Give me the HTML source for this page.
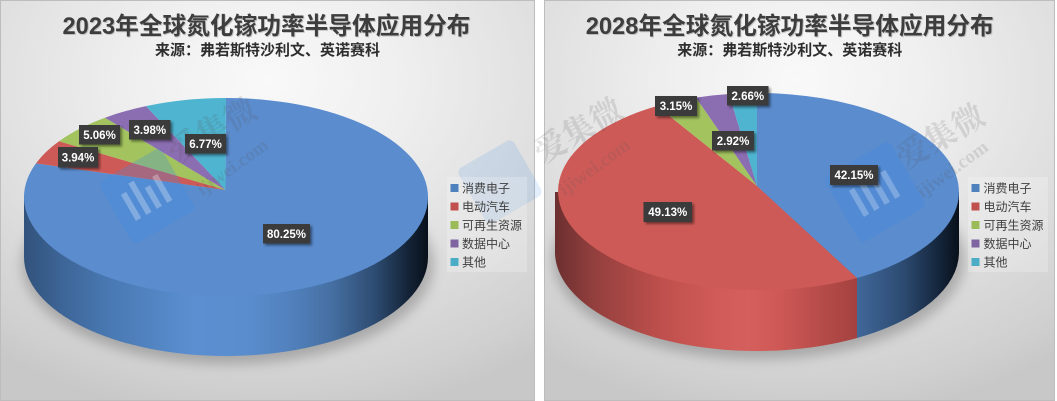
<!DOCTYPE html>
<html><head><meta charset="utf-8">
<style>
html,body{margin:0;padding:0;background:#fff;}
body{width:1057px;height:401px;overflow:hidden;position:relative;}
svg{position:absolute;left:0;top:0;}
.t{font-family:"Liberation Sans","Noto Sans CJK SC",sans-serif;font-weight:bold;font-size:23.7px;fill:#3d3d3d;text-anchor:middle;}
.ts{font-family:"Liberation Sans","Noto Sans CJK SC",sans-serif;font-weight:bold;font-size:23.7px;fill:rgba(0,0,0,0.18);text-anchor:middle;}
.s{font-family:"Liberation Sans","Noto Sans CJK SC",sans-serif;font-weight:bold;font-size:15px;fill:#2e2e2e;text-anchor:middle;}
.lg{font-family:"Liberation Sans","Noto Sans CJK SC",sans-serif;font-size:12px;fill:#404040;}
.lb{font-family:"Liberation Sans",sans-serif;font-weight:bold;font-size:11.5px;fill:#ffffff;text-anchor:middle;}
.wm{font-family:"Liberation Serif","Noto Serif CJK SC",serif;font-weight:bold;fill:rgba(90,90,90,0.17);text-anchor:middle;}
</style></head><body>
<svg width="1057" height="401" viewBox="0 0 1057 401" xmlns="http://www.w3.org/2000/svg">
<defs>
  <radialGradient id="bg" cx="0.5" cy="0.2" r="0.85">
    <stop offset="0" stop-color="#f9f9f9"/>
    <stop offset="0.3" stop-color="#efefef"/>
    <stop offset="0.65" stop-color="#dedede"/>
    <stop offset="0.9" stop-color="#d0d0d0"/>
    <stop offset="1" stop-color="#c8c8c8"/>
  </radialGradient>
  <linearGradient id="bsL" gradientUnits="userSpaceOnUse" x1="24" y1="0" x2="428" y2="0">
    <stop offset="0" stop-color="#31527b"/>
    <stop offset="0.1" stop-color="#3e6699"/>
    <stop offset="0.22" stop-color="#4a7ab4"/>
    <stop offset="0.42" stop-color="#5b8fd1"/>
    <stop offset="0.55" stop-color="#5a8dcd"/>
    <stop offset="0.65" stop-color="#5282bf"/>
    <stop offset="0.76" stop-color="#4670a3"/>
    <stop offset="0.87" stop-color="#2d4b70"/>
    <stop offset="0.95" stop-color="#142438"/>
    <stop offset="1" stop-color="#08101a"/>
  </linearGradient>
  <linearGradient id="bsR" gradientUnits="userSpaceOnUse" x1="555" y1="0" x2="959" y2="0">
    <stop offset="0" stop-color="#31527b"/>
    <stop offset="0.1" stop-color="#3e6699"/>
    <stop offset="0.22" stop-color="#4a7ab4"/>
    <stop offset="0.42" stop-color="#5b8fd1"/>
    <stop offset="0.55" stop-color="#5a8dcd"/>
    <stop offset="0.65" stop-color="#5282bf"/>
    <stop offset="0.75" stop-color="#406899"/>
    <stop offset="0.86" stop-color="#2d4b72"/>
    <stop offset="0.94" stop-color="#172a42"/>
    <stop offset="1" stop-color="#08101a"/>
  </linearGradient>
  <linearGradient id="rsR" gradientUnits="userSpaceOnUse" x1="555" y1="0" x2="959" y2="0">
    <stop offset="0" stop-color="#6c2f2f"/>
    <stop offset="0.1" stop-color="#94403e"/>
    <stop offset="0.27" stop-color="#c0504d"/>
    <stop offset="0.4" stop-color="#d05b58"/>
    <stop offset="0.48" stop-color="#d55f5c"/>
    <stop offset="0.56" stop-color="#cd5855"/>
    <stop offset="0.66" stop-color="#b64c49"/>
    <stop offset="0.75" stop-color="#a3413f"/>
    <stop offset="1" stop-color="#5a2020"/>
  </linearGradient>
  <filter id="blur" x="-30%" y="-50%" width="160%" height="200%">
    <feGaussianBlur stdDeviation="6"/>
  </filter>
  <filter id="ds" x="-20%" y="-30%" width="150%" height="180%">
    <feDropShadow dx="2" dy="2" stdDeviation="1.3" flood-color="#000" flood-opacity="0.45"/>
  </filter>
</defs>

<!-- Panels -->
<rect x="0.5" y="0.5" width="534" height="400" fill="url(#bg)" stroke="#bdbdbd" stroke-width="1"/>
<rect x="544.5" y="0.5" width="510" height="400" fill="url(#bg)" stroke="#bdbdbd" stroke-width="1"/>

<!-- Titles left -->
<text class="ts" x="267.5" y="35">2023年全球氮化镓功率半导体应用分布</text>
<text class="t" x="266.5" y="34">2023年全球氮化镓功率半导体应用分布</text>
<text class="s" x="267.5" y="55">来源：弗若斯特沙利文、英诺赛科</text>

<!-- Titles right -->
<text class="ts" x="790.7" y="35">2028年全球氮化镓功率半导体应用分布</text>
<text class="t" x="789.7" y="34">2028年全球氮化镓功率半导体应用分布</text>
<text class="s" x="789.7" y="55">来源：弗若斯特沙利文、英诺赛科</text>

<!-- LEFT PIE -->
<ellipse cx="228" cy="264" rx="206" ry="100" fill="rgba(0,0,0,0.22)" filter="url(#blur)"/>
<path d="M428 197 L428 257 A202 99 0 0 1 24 257 L24 197 Z" fill="url(#bsL)"/>
<path d="M225.5 190 L226 98 A202 99 0 1 1 36 163.4 Z" fill="#5a8cce"/>
<path d="M225.5 190 L36 163.4 A202 99 0 0 1 59 141.3 Z" fill="#ce5a57"/>
<path d="M225.5 190 L59 141.3 A202 99 0 0 1 105 117.7 Z" fill="#a2c35e"/>
<path d="M225.5 190 L105 117.7 A202 99 0 0 1 146 106.1 Z" fill="#8b6db1"/>
<path d="M225.5 190 L146 106.1 A202 99 0 0 1 226 98 Z" fill="#4eb4d0"/>

<!-- RIGHT PIE -->
<ellipse cx="759" cy="259" rx="206" ry="100" fill="rgba(0,0,0,0.22)" filter="url(#blur)"/>
<path d="M857 278 L857 338 A202 99 0 0 1 555 252 L555 192 L757 192 Z" fill="url(#rsR)"/>
<path d="M959 192 L959 252 A202 99 0 0 1 857 338 L857 278 L757 192 Z" fill="url(#bsR)"/>
<path d="M757 186 L757 93 A202 99 0 0 1 857 278 Z" fill="#5a8cce"/>
<path d="M757 186 L857 278 A202 99 0 0 1 657 106 Z" fill="#ce5a57"/>
<path d="M757 186 L657 106 A202 99 0 0 1 696 97.6 Z" fill="#a2c35e"/>
<path d="M757 186 L696 97.6 A202 99 0 0 1 729 94 Z" fill="#8b6db1"/>
<path d="M757 186 L729 94 A202 99 0 0 1 757 93 Z" fill="#4eb4d0"/>

<!-- Watermarks -->
<g transform="translate(147,196) rotate(-30)">
  <rect x="-36" y="-36" width="72" height="72" rx="6" fill="rgba(60,140,230,0.28)"/>
  <rect x="-22" y="-14" width="6" height="30" fill="rgba(255,255,255,0.28)"/>
  <rect x="-10" y="-20" width="6" height="36" fill="rgba(255,255,255,0.28)"/>
  <rect x="2" y="-8" width="6" height="24" fill="rgba(255,255,255,0.28)"/>
  <rect x="14" y="-14" width="6" height="30" fill="rgba(255,255,255,0.28)"/>
</g>
<g transform="translate(500,182) rotate(-30)">
  <rect x="-32" y="-32" width="64" height="64" rx="6" fill="rgba(60,140,230,0.15)"/>
</g>
<g transform="translate(875,192) rotate(-30)">
  <rect x="-38" y="-38" width="76" height="76" rx="6" fill="rgba(60,140,230,0.26)"/>
  <rect x="-22" y="-14" width="6" height="30" fill="rgba(255,255,255,0.25)"/>
  <rect x="-10" y="-20" width="6" height="36" fill="rgba(255,255,255,0.25)"/>
  <rect x="2" y="-8" width="6" height="24" fill="rgba(255,255,255,0.25)"/>
  <rect x="14" y="-14" width="6" height="30" fill="rgba(255,255,255,0.25)"/>
</g>
<g transform="translate(218,140) rotate(-30)"><text class="wm" x="0" y="0" font-size="32">爱集微</text></g>
<g transform="translate(236,172) rotate(-36)"><text class="wm" x="0" y="0" font-size="19">ijiwei.com</text></g>
<g transform="translate(584,140) rotate(-30)"><text class="wm" x="0" y="0" font-size="32">爱集微</text></g>
<g transform="translate(598,172) rotate(-36)"><text class="wm" x="0" y="0" font-size="19">ijiwei.com</text></g>
<g transform="translate(946,146) rotate(-30)"><text class="wm" x="0" y="0" font-size="32">爱集微</text></g>
<g transform="translate(956,174) rotate(-36)"><text class="wm" x="0" y="0" font-size="19">ijiwei.com</text></g>

<!-- Data labels -->
<g filter="url(#ds)">
  <rect x="58" y="147" width="40" height="20.5" fill="#3a3a3a"/>
  <rect x="79" y="125" width="41" height="19.5" fill="#3a3a3a"/>
  <rect x="129" y="120" width="41.5" height="19.5" fill="#3a3a3a"/>
  <rect x="185" y="134" width="41" height="19.5" fill="#3a3a3a"/>
  <rect x="263" y="224" width="47" height="19.5" fill="#3a3a3a"/>
  <rect x="655" y="96" width="42" height="20" fill="#3a3a3a"/>
  <rect x="727" y="86" width="41.5" height="19.5" fill="#3a3a3a"/>
  <rect x="712" y="131" width="42" height="19.5" fill="#3a3a3a"/>
  <rect x="830" y="165" width="48" height="20" fill="#3a3a3a"/>
  <rect x="643.5" y="202" width="48.5" height="20" fill="#3a3a3a"/>
</g>
<text class="lb" x="78" y="161.5">3.94%</text>
<text class="lb" x="99.5" y="139">5.06%</text>
<text class="lb" x="149.8" y="134">3.98%</text>
<text class="lb" x="205.5" y="148">6.77%</text>
<text class="lb" x="286.5" y="238">80.25%</text>
<text class="lb" x="676" y="110.2">3.15%</text>
<text class="lb" x="747.8" y="100">2.66%</text>
<text class="lb" x="733" y="145">2.92%</text>
<text class="lb" x="854" y="179.2">42.15%</text>
<text class="lb" x="667.8" y="216.2">49.13%</text>

<!-- Legend left -->
<rect x="447" y="177" width="80" height="95" fill="rgba(255,255,255,0.22)"/>
<rect x="450.5" y="184" width="8" height="8" fill="#4f81bd"/>
<rect x="450.5" y="202.5" width="8" height="8" fill="#c0504d"/>
<rect x="450.5" y="221" width="8" height="8" fill="#9bbb59"/>
<rect x="450.5" y="239.5" width="8" height="8" fill="#8064a2"/>
<rect x="450.5" y="258" width="8" height="8" fill="#4bacc6"/>
<text class="lg" x="462" y="192.5">消费电子</text>
<text class="lg" x="462" y="211">电动汽车</text>
<text class="lg" x="462" y="229.5">可再生资源</text>
<text class="lg" x="462" y="248">数据中心</text>
<text class="lg" x="462" y="266.5">其他</text>

<!-- Legend right -->
<rect x="968" y="177" width="80" height="95" fill="rgba(255,255,255,0.22)"/>
<rect x="971.5" y="184" width="8" height="8" fill="#4f81bd"/>
<rect x="971.5" y="202.5" width="8" height="8" fill="#c0504d"/>
<rect x="971.5" y="221" width="8" height="8" fill="#9bbb59"/>
<rect x="971.5" y="239.5" width="8" height="8" fill="#8064a2"/>
<rect x="971.5" y="258" width="8" height="8" fill="#4bacc6"/>
<text class="lg" x="983.5" y="192.5">消费电子</text>
<text class="lg" x="983.5" y="211">电动汽车</text>
<text class="lg" x="983.5" y="229.5">可再生资源</text>
<text class="lg" x="983.5" y="248">数据中心</text>
<text class="lg" x="983.5" y="266.5">其他</text>
</svg>
</body></html>
